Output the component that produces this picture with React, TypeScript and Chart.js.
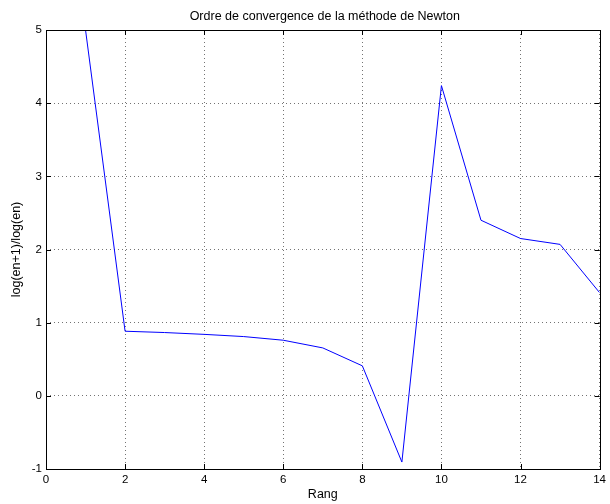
import React, { useEffect, useRef } from "react";
import { Chart, registerables } from "chart.js";

Chart.register(...registerables);

const rang = [1, 2, 3, 4, 5, 6, 7, 8, 9, 10, 11, 12, 13, 14];
const ordre = [5.0, 0.883, 0.865, 0.84, 0.81, 0.76, 0.655, 0.41, -0.905, 4.24, 2.4, 2.15, 2.07, 1.41];
const xTicks = [0, 2, 4, 6, 8, 10, 12, 14];
const yTicks = [-1, 0, 1, 2, 3, 4, 5];
const titleText = "Ordre de convergence de la méthode de Newton";
const xLabel = "Rang";
const yLabel = "log(en+1)/log(en)";

const FONT = "'Liberation Sans', Arial, Helvetica, sans-serif";

const framePlugin = {
  id: "matlabFrame",
  afterDraw(chart: any) {
    const { ctx, chartArea, scales } = chart;
    const { left, right, top, bottom } = chartArea;
    ctx.save();
    ctx.strokeStyle = "#000";
    ctx.lineWidth = 1;
    ctx.strokeRect(Math.round(left) + 0.5, Math.round(top) + 0.5, Math.round(right - left), Math.round(bottom - top));
    const tl = 5;
    ctx.beginPath();
    xTicks.forEach((v) => {
      const p = Math.round(scales.x.getPixelForValue(v)) + 0.5;
      ctx.moveTo(p, bottom);
      ctx.lineTo(p, bottom - tl);
      ctx.moveTo(p, top);
      ctx.lineTo(p, top + tl);
    });
    yTicks.forEach((v) => {
      const p = Math.round(scales.y.getPixelForValue(v)) + 0.5;
      ctx.moveTo(left, p);
      ctx.lineTo(left + tl, p);
      ctx.moveTo(right, p);
      ctx.lineTo(right - tl, p);
    });
    ctx.stroke();
    ctx.fillStyle = "#000";
    ctx.font = `12.5px ${FONT}`;
    ctx.textAlign = "center";
    ctx.textBaseline = "middle";
    ctx.fillText(titleText, (left + right) / 2 + 2, 16.5);
    ctx.restore();
  },
};

export default function App() {
  const ref = useRef<HTMLCanvasElement | null>(null);
  useEffect(() => {
    document.body.style.margin = "0";
    if (!ref.current) return;
    const chart = new Chart(ref.current, {
      type: "line",
      data: {
        datasets: [
          {
            data: rang.map((x, i) => ({ x, y: ordre[i] })),
            borderColor: "#0000ff",
            borderWidth: 1,
            pointRadius: 0,
            fill: false,
            tension: 0,
          },
        ],
      },
      options: {
        animation: false,
        responsive: false,
        layout: { padding: { top: 30, right: 7, left: 0, bottom: 0 } },
        plugins: { legend: { display: false }, title: { display: false }, tooltip: { enabled: false } },
        scales: {
          x: {
            type: "linear",
            min: 0,
            max: 14,
            afterFit: (s: any) => {
              s.height = 35;
            },
            afterBuildTicks: (s: any) => {
              s.ticks = xTicks.map((v) => ({ value: v }));
            },
            ticks: { color: "#000", font: { size: 11.5, family: FONT }, padding: 4, maxRotation: 0 },
            grid: { color: "rgba(0,0,0,0.55)", lineWidth: 1, drawTicks: false },
            border: { display: false, dash: [1, 3] },
            title: { display: true, text: xLabel, color: "#000", font: { size: 12.5, family: FONT }, padding: { top: 0, bottom: 1.5 } },
          },
          y: {
            type: "linear",
            min: -1,
            max: 5,
            afterFit: (s: any) => {
              s.width = 46;
            },
            afterBuildTicks: (s: any) => {
              s.ticks = yTicks.map((v) => ({ value: v }));
            },
            ticks: { color: "#000", font: { size: 11.5, family: FONT }, padding: 4 },
            grid: { color: "rgba(0,0,0,0.55)", lineWidth: 1, drawTicks: false },
            border: { display: false, dash: [1, 3] },
            title: { display: true, text: yLabel, color: "#000", font: { size: 12.5, family: FONT }, padding: { top: 9.5, bottom: 0 } },
          },
        },
      },
      plugins: [framePlugin],
    } as any);
    return () => chart.destroy();
  }, []);
  return (
    <div style={{ width: 610, height: 504, background: "#fff" }}>
      <canvas ref={ref} width={610} height={504} style={{ display: "block" }} />
    </div>
  );
}
